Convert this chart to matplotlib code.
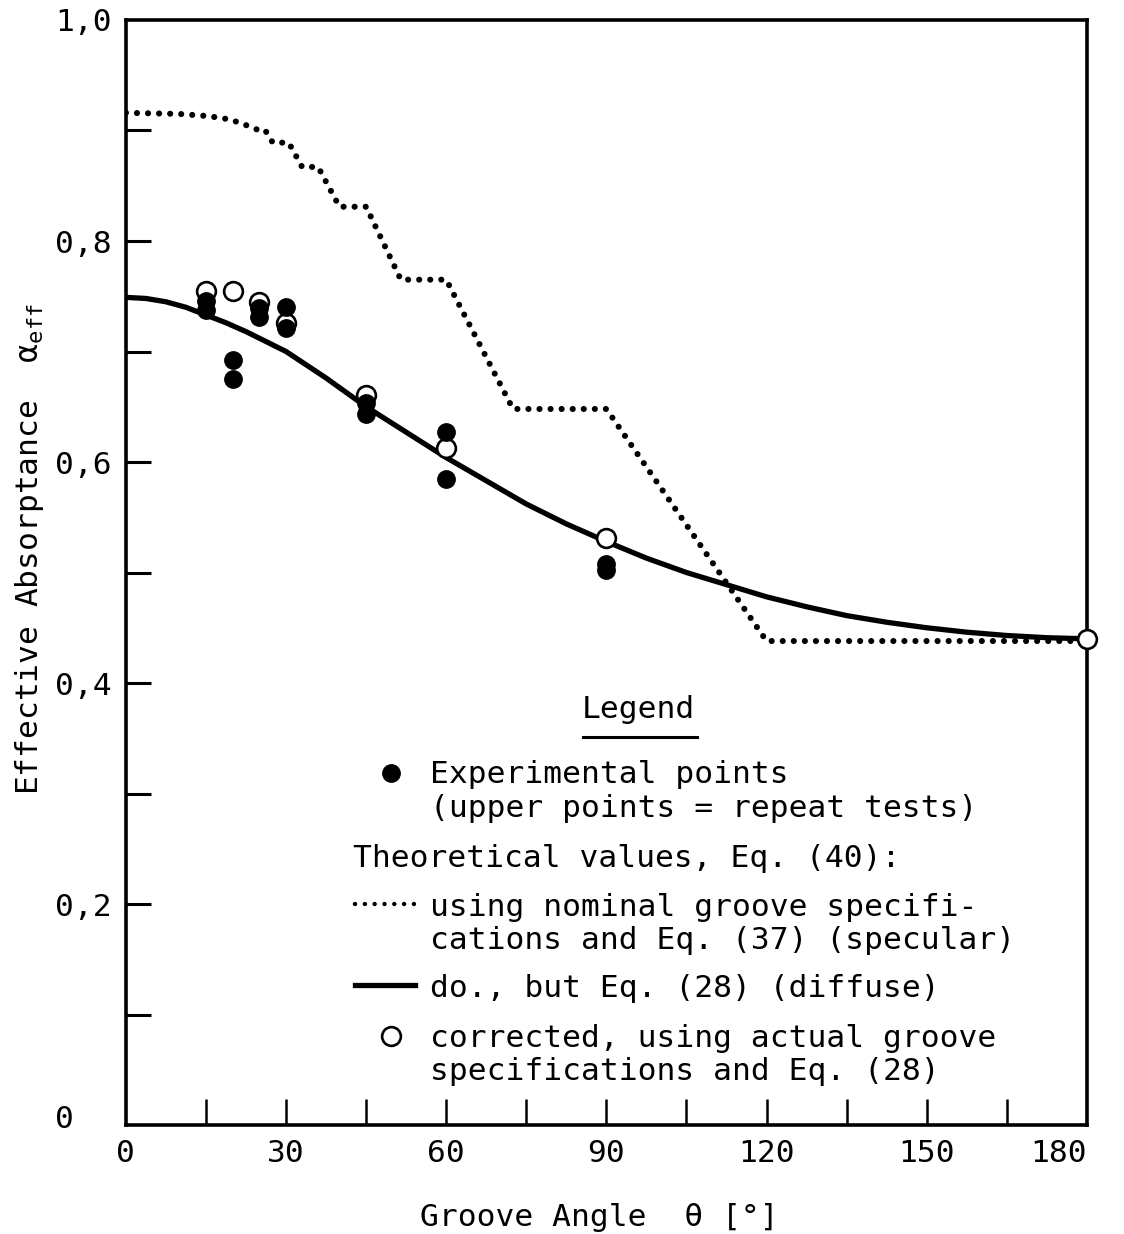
import numpy as np
import matplotlib
matplotlib.use('Agg')
from matplotlib import pyplot as plt
from matplotlib import transforms

plt.rcParams['font.family'] = ['DejaVu Sans Mono']
plt.rcParams['mathtext.fontset'] = 'custom'
plt.rcParams['mathtext.rm'] = 'DejaVu Sans Mono'

# experimental points (filled), groove angle [deg] vs effective absorptance
theta_meas = [15, 15, 20, 20, 25, 25, 30, 30, 45, 45, 60, 60, 90, 90]
alpha_meas = [0.746, 0.738, 0.692, 0.675, 0.739, 0.731, 0.740, 0.721,
              0.653, 0.643, 0.627, 0.585, 0.508, 0.502]

# corrected values (open circles)
theta_corr = [15, 20, 25, 30, 45, 60, 90, 180]
alpha_corr = [0.755, 0.755, 0.745, 0.726, 0.661, 0.613, 0.531, 0.440]

# Eq. (28), diffuse
theta_diffuse = [0, 3.75, 7.5, 11.25, 15, 18.75, 22.5, 26.25, 30, 37.5, 45, 52.5, 60,
                 67.5, 75, 82.5, 90, 97.5, 105, 112.5, 120, 127.5, 135, 142.5, 150,
                 157.5, 165, 172.5, 180]
alpha_diffuse = [0.749, 0.748, 0.745, 0.740, 0.733, 0.726, 0.718, 0.709, 0.700,
                 0.676, 0.650, 0.627, 0.604, 0.583, 0.562, 0.544, 0.528, 0.513,
                 0.500, 0.489, 0.478, 0.469, 0.461, 0.455, 0.450, 0.446, 0.443,
                 0.441, 0.440]

# Eq. (37), specular, nominal groove specs
theta_specular = [0, 10, 15.5, 19.5, 23, 24.5, 26, 27.5, 30.5, 33, 36, 40, 45,
                  51.5, 60, 72.5, 90, 120, 180]
alpha_specular = [0.916, 0.915, 0.913, 0.910, 0.904, 0.901, 0.901, 0.889, 0.889,
                  0.867, 0.867, 0.831, 0.831, 0.765, 0.765, 0.648, 0.648, 0.438, 0.438]

y_labels = ['0', '0,2', '0,4', '0,6', '0,8', '1,0']
y_label_pos = [0, 0.2, 0.4, 0.6, 0.8, 1.0]
x_labels = ['0', '30', '60', '90', '120', '150', '180']
x_label_pos = [0, 30, 60, 90, 120, 150, 180]

FS = 22.5
dotted = (0, (0.01, 1.8))

fig = plt.figure(figsize=(11.24, 12.34), dpi=100)
ax = fig.add_axes([0.112, 0.0883, 0.855, 0.8955])
ax.set_xlim(0, 180)
ax.set_ylim(0, 1)

ax.plot(theta_diffuse, alpha_diffuse, color='black', lw=3.8, zorder=2)
ax.plot(theta_specular, alpha_specular, color='black', lw=4.4,
        linestyle=dotted, dash_capstyle='round', zorder=2)
ax.plot(theta_corr, alpha_corr, 'o', ms=13.5, mfc='white', mec='black', mew=1.9,
        zorder=3, clip_on=False)
ax.plot(theta_meas, alpha_meas, 'o', ms=12.5, color='black', zorder=4)

for s in ax.spines.values():
    s.set_linewidth(2.6)

ax.set_xticks(np.arange(15, 180, 15))
ax.set_yticks(np.arange(0.1, 1.0, 0.1))
ax.tick_params(axis='x', direction='in', length=19, width=1.8, labelbottom=False)
ax.tick_params(axis='y', direction='in', length=18, width=2.2, labelleft=False)

# tick labels
ytr = transforms.blended_transform_factory(ax.transAxes, ax.transData)
for v, lab in zip(y_label_pos, y_labels):
    ax.text(-0.074, v + (0.008 if v == 0 else 0), lab, transform=ytr, ha='left',
            va='center_baseline', fontsize=FS, clip_on=False)
xtr = transforms.blended_transform_factory(ax.transData, ax.transAxes)
for v, lab in zip(x_label_pos, x_labels):
    ax.text(v, -0.023, lab, transform=xtr, ha='right' if v == 180 else 'center',
            va='center_baseline', fontsize=FS, clip_on=False)

ax.text(0.493, -0.0814, 'Groove Angle  θ [°]', transform=ax.transAxes,
        ha='center', va='center_baseline', fontsize=FS)
ax.text(-0.1, 0.521, r'Effective Absorptance  $\mathrm{\alpha}_{\mathrm{eff}}$',
        transform=ax.transAxes, rotation=90, ha='center', va='center', fontsize=FS)

# legend block
T = ax.transAxes
ax.text(0.533, 0.379, 'Legend', transform=T, ha='center', va='center_baseline', fontsize=FS)
ax.plot([0.4755, 0.594], [0.351, 0.351], transform=T, color='black', lw=2.2)

ax.plot([0.2758], [0.3186], 'o', transform=T, ms=12.5, color='black')
ax.text(0.3163, 0.3195, 'Experimental points', transform=T,
        va='center_baseline', fontsize=FS)
ax.text(0.3163, 0.2896, '(upper points = repeat tests)', transform=T,
        va='center_baseline', fontsize=FS)

ax.text(0.2362, 0.2443, 'Theoretical values, Eq. (40):', transform=T,
        va='center_baseline', fontsize=FS)

ax.plot([0.2383, 0.3007], [0.2, 0.2], transform=T, color='black', lw=3.2,
        linestyle=(0, (0.01, 2.2)), dash_capstyle='round')
ax.text(0.3163, 0.2, 'using nominal groove specifi-', transform=T,
        va='center_baseline', fontsize=FS)
ax.text(0.3163, 0.170, 'cations and Eq. (37) (specular)', transform=T,
        va='center_baseline', fontsize=FS)

ax.plot([0.2383, 0.3007], [0.1267, 0.1267], transform=T, color='black', lw=3.8)
ax.text(0.3163, 0.1267, 'do., but Eq. (28) (diffuse)', transform=T,
        va='center_baseline', fontsize=FS)

ax.plot([0.2758], [0.0805], 'o', transform=T, ms=13.5, mfc='white', mec='black', mew=1.9)
ax.text(0.3163, 0.0814, 'corrected, using actual groove', transform=T,
        va='center_baseline', fontsize=FS)
ax.text(0.3163, 0.0516, 'specifications and Eq. (28)', transform=T,
        va='center_baseline', fontsize=FS)

fig.savefig('out.png', dpi=100)
